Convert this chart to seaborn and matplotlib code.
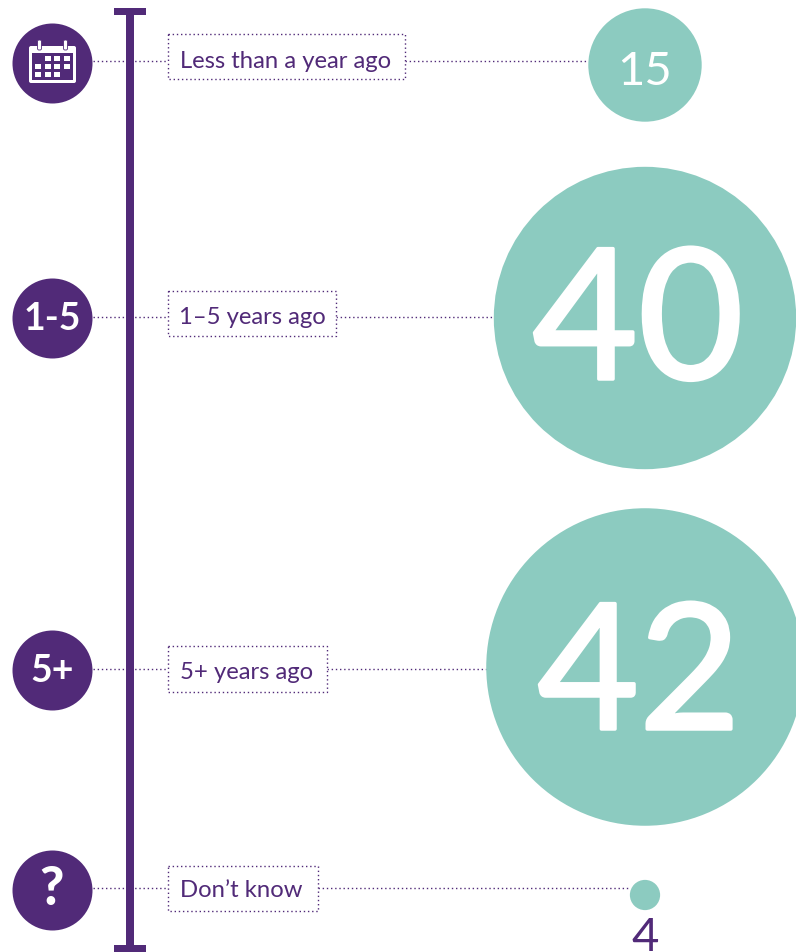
import matplotlib
matplotlib.use("Agg")
import matplotlib.pyplot as plt
import matplotlib.patheffects as pe
from matplotlib.patches import Rectangle, FancyBboxPatch
import pandas as pd
import seaborn as sns

categories = ["Less than a year ago", "1–5 years ago", "5+ years ago", "Don’t know"]
values = [15, 40, 42, 4]
badges = ["", "1-5", "5+", "?"]

PURPLE = "#512a78"
TEAL = "#8ccbc0"
W, H, DPI = 796, 953, 100

# layout (pixels)
row_y = [62, 318, 670, 889]
bubble_y = [66, 319, 668, 896]
bubble_x = 645
badge_y = [64, 319, 671, 891]
box_y = [57.5, 314.5, 670, 889.5]
box_right = [405, 336, 327, 318]
box_half = [22.5, 22.5, 23, 22.5]
text_y = [61, 318, 673, 891]
px_per_value = 7.56
value_fs = [34, 131, 126, 34]
value_x = [645, 638, 639, 645]
value_base = [85, 380, 730, 951]
value_stroke = [0, 2.5, 2.5, 0]
label_fs = 17.2

sns.set_theme(style="white")
plt.rcParams["font.family"] = ["Lato", "DejaVu Sans"]

fig = plt.figure(figsize=(W / DPI, H / DPI), dpi=DPI)
ax = fig.add_axes([0, 0, 1, 1])
ax.set_xlim(0, W)
ax.set_ylim(H, 0)
ax.axis("off")


def area(d_px):
    return (d_px * 72 / DPI) ** 2


df = pd.DataFrame({"cat": categories, "value": values, "x": bubble_x, "y": bubble_y})
df["s"] = [area(v * px_per_value) for v in values]
sns.scatterplot(data=df, x="x", y="y", s=df["s"].values, color=TEAL, linewidth=0, ax=ax,
                legend=False, zorder=3, clip_on=True)

badge_df = pd.DataFrame({"x": [52] * 4, "y": badge_y})
sns.scatterplot(data=badge_df, x="x", y="y", s=area(80), color=PURPLE, linewidth=0, ax=ax,
                legend=False, zorder=3)

dot = dict(color=PURPLE, lw=1.0, linestyle=(0, (1, 2)), zorder=1)
for i, y in enumerate(row_y):
    ax.plot([93, 167], [y, y], **dot)
    ax.plot([box_right[i], bubble_x - values[i] * px_per_value / 2], [y, y], **dot)
    ax.add_patch(Rectangle((167.5, box_y[i] - box_half[i]), box_right[i] - 167.5, 2 * box_half[i],
                           fc="white", edgecolor=PURPLE, lw=1.0, linestyle=(0, (1, 2)), zorder=2))
    ax.text(180 if i != 1 else 179, text_y[i], categories[i], color=PURPLE, fontsize=label_fs,
            ha="left", va="center", zorder=4)

# timeline
ax.add_patch(Rectangle((126, 9), 8, 944, color=PURPLE, lw=0, zorder=2))
ax.add_patch(Rectangle((114, 9), 32, 7, color=PURPLE, lw=0, zorder=2))
ax.add_patch(Rectangle((114, 946), 32, 7, color=PURPLE, lw=0, zorder=2))

# badge text
ax.text(52, badge_y[1], badges[1], color="white", fontsize=27, fontweight="bold", ha="center", va="center", zorder=5)
ax.text(52, badge_y[2], badges[2], color="white", fontsize=27, fontweight="bold", ha="center", va="center", zorder=5)
ax.text(52, badge_y[3] - 1, badges[3], color="white", fontsize=38, fontweight="black", ha="center", va="center", zorder=5)

# calendar icon
ax.add_patch(FancyBboxPatch((29, 47), 47, 37, boxstyle="round,pad=0,rounding_size=2", fc="white", ec="none", zorder=5))
ax.add_patch(Rectangle((32, 54), 41, 27, fc=PURPLE, ec="none", zorder=6))
for cx in (39.5, 65.5):
    ax.add_patch(FancyBboxPatch((cx - 2, 41), 4, 10, boxstyle="round,pad=0,rounding_size=1.5",
                                fc="white", ec=PURPLE, lw=0.6, zorder=7))
for rx, ry in [(45, 59), (54, 59), (64, 59),
               (35, 67), (45, 67), (54, 67), (64, 67),
               (35, 75), (45, 75), (54, 75)]:
    ax.add_patch(Rectangle((rx, ry - 2), 6, 5, fc="white", ec="none", zorder=7))

# values
for i, v in enumerate(values):
    t = ax.text(value_x[i], value_base[i], str(v), color="white" if v != 4 else PURPLE, fontsize=value_fs[i],
                ha="center", va="baseline", zorder=5)
    if value_stroke[i]:
        t.set_path_effects([pe.withStroke(linewidth=value_stroke[i], foreground="white")])

fig.savefig("out.png", dpi=DPI, facecolor="white")
